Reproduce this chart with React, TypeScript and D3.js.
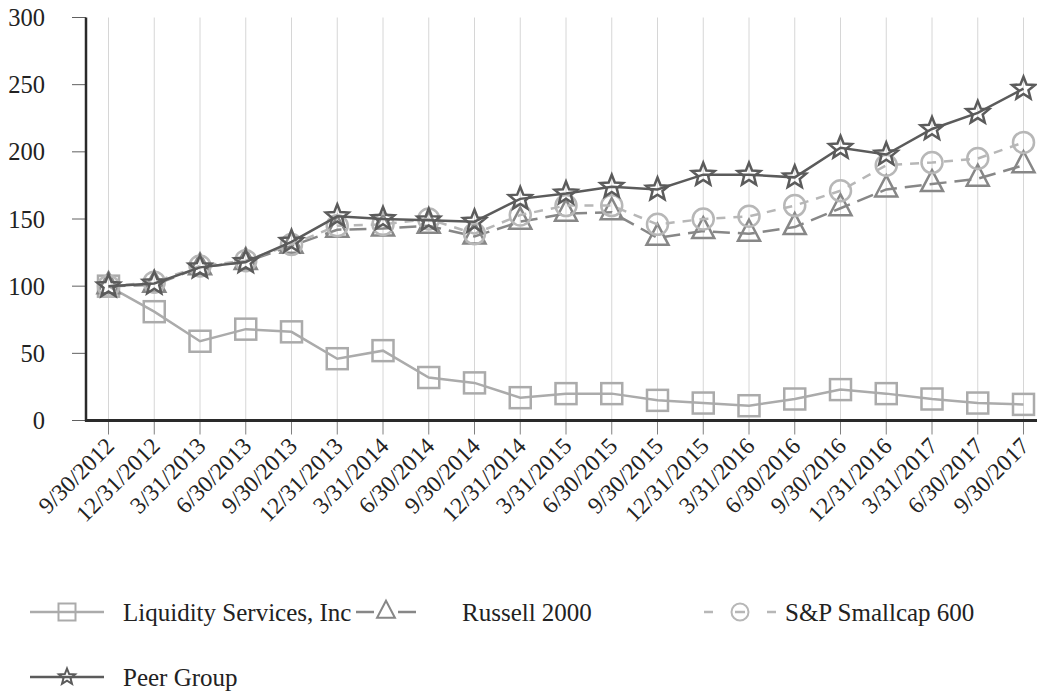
import React from "react";
import * as d3 from "d3";

const dates = [
  "9/30/2012", "12/31/2012", "3/31/2013", "6/30/2013", "9/30/2013", "12/31/2013",
  "3/31/2014", "6/30/2014", "9/30/2014", "12/31/2014", "3/31/2015", "6/30/2015",
  "9/30/2015", "12/31/2015", "3/31/2016", "6/30/2016", "9/30/2016", "12/31/2016",
  "3/31/2017", "6/30/2017", "9/30/2017",
];
const liquidity = [100, 81, 59, 68, 66, 46, 52, 32, 28, 17, 20, 20, 15, 13, 11, 16, 23, 20, 16, 13, 12];
const russell = [100, 101, 114, 118, 130, 142, 143, 145, 137, 148, 154, 155, 136, 141, 139, 144, 158, 172, 176, 180, 190];
const sp600 = [100, 103, 115, 119, 131, 145, 146, 150, 139, 153, 160, 160, 146, 150, 152, 160, 171, 190, 192, 195, 207];
const peer = [100, 102, 114, 118, 133, 152, 150, 149, 148, 165, 169, 174, 172, 183, 183, 181, 203, 198, 217, 229, 247];
const yTicks = [0, 50, 100, 150, 200, 250, 300];

type Series = { name: string; values: number[]; color: string; dash?: string; marker: string };
const seriesList: Series[] = [
  { name: "Liquidity Services, Inc", values: liquidity, color: "#ababab", marker: "square" },
  { name: "Russell 2000", values: russell, color: "#878787", dash: "17,8", marker: "triangle" },
  { name: "S&P Smallcap 600", values: sp600, color: "#b7b7b7", dash: "9,8", marker: "circle" },
  { name: "Peer Group", values: peer, color: "#5b5b5b", marker: "star" },
];

const FONT = "'Liberation Serif', 'Times New Roman', serif";

function starPath(R: number, r: number) {
  const pts: [number, number][] = [];
  for (let i = 0; i < 10; i++) {
    const a = -Math.PI / 2 + (i * Math.PI) / 5;
    const rad = i % 2 === 0 ? R : r;
    pts.push([Math.cos(a) * rad, Math.sin(a) * rad]);
  }
  return "M" + pts.map((p) => p[0].toFixed(2) + "," + p[1].toFixed(2)).join("L") + "Z";
}

function Marker({ type, x, y, color, s, sw = 2.5 }: { type: string; x: number; y: number; color: string; s: number; sw?: number }) {
  if (type === "square")
    return <rect x={x - s / 2} y={y - s / 2} width={s} height={s} fill="none" stroke={color} strokeWidth={sw} />;
  if (type === "circle") return <circle cx={x} cy={y} r={s / 2} fill="none" stroke={color} strokeWidth={sw} />;
  if (type === "triangle") {
    const h = s;
    const w = s * 1.05;
    const d = `M${x},${y - (2 * h) / 3}L${x + w / 2},${y + h / 3}L${x - w / 2},${y + h / 3}Z`;
    return <path d={d} fill="none" stroke={color} strokeWidth={sw} strokeLinejoin="miter" />;
  }
  return <path d={starPath(s / 2, s / 4.6)} transform={`translate(${x},${y})`} fill="none" stroke={color} strokeWidth={sw} />;
}

function LegendLine({ kind, cx, cy, color }: { kind: string; cx: number; cy: number; color: string }) {
  let segs: [number, number][];
  if (kind === "triangle") segs = [[-30, -12], [12, 30]];
  else if (kind === "circle") segs = [[-36, -27], [-5, 5], [27, 36]];
  else segs = [[-37, 37]];
  return (
    <g>
      {segs.map(([a, b], i) => (
        <line key={i} x1={cx + a} x2={cx + b} y1={cy} y2={cy} stroke={color} strokeWidth={2.5} />
      ))}
    </g>
  );
}

export default function App() {
  const W = 1037;
  const H = 691;
  const x = d3.scalePoint<string>().domain(dates).range([108.5, 1023.5]);
  const y = d3.scaleLinear().domain([0, 300]).range([420.5, 17.5]);
  const line = d3
    .line<number>()
    .x((_, i) => x(dates[i]) as number)
    .y((d) => y(d));

  const legendItems = [
    { s: seriesList[0], cx: 67, cy: 612, tx: 123 },
    { s: seriesList[1], cx: 386, cy: 612, tx: 462 },
    { s: seriesList[2], cx: 740, cy: 612, tx: 785 },
    { s: seriesList[3], cx: 67, cy: 677, tx: 123 },
  ];

  return (
    <div style={{ position: "absolute", left: 0, top: 0, background: "#fff" }}>
      <svg width={W} height={H} style={{ display: "block", fontFamily: FONT }}>
        <rect width={W} height={H} fill="#fff" />
        {dates.map((d) => (
          <line key={"g" + d} x1={x(d)} x2={x(d)} y1={y(300)} y2={y(0)} stroke="#d6d6d6" strokeWidth={1} />
        ))}
        {dates.map((d) => (
          <line key={"t" + d} x1={x(d)} x2={x(d)} y1={y(0)} y2={y(0) + 14} stroke="#808080" strokeWidth={1} />
        ))}
        {yTicks.map((t) => (
          <g key={"y" + t}>
            <line x1={72} x2={86} y1={y(t)} y2={y(t)} stroke="#606060" strokeWidth={1} />
            <text x={45} y={y(t)} dy="0.35em" textAnchor="end" fontSize={24.5} fill="#222">
              {t}
            </text>
          </g>
        ))}
        <line x1={86} x2={86} y1={y(300)} y2={y(0) + 1} stroke="#2a2a2a" strokeWidth={2.5} />
        <line x1={85} x2={1037} y1={y(0)} y2={y(0)} stroke="#2a2a2a" strokeWidth={3} />
        {dates.map((d) => (
          <text
            key={"l" + d}
            transform={`translate(${(x(d) as number) + 7},${y(0) + 27}) rotate(-45)`}
            textAnchor="end"
            fontSize={23.5}
            fill="#222"
          >
            {d}
          </text>
        ))}
        {seriesList.map((s) => (
          <g key={s.name}>
            <path d={line(s.values) || ""} fill="none" stroke={s.color} strokeWidth={2.5} strokeDasharray={s.dash} />
            {s.values.map((v, i) => (
              <Marker key={i} type={s.marker} x={x(dates[i]) as number} y={y(v)} color={s.color} s={s.marker === "star" ? 24 : 21} />
            ))}
          </g>
        ))}
        {legendItems.map(({ s, cx, cy, tx }) => (
          <g key={"lg" + s.name}>
            <LegendLine kind={s.marker} cx={cx} cy={cy} color={s.color} />
            <Marker type={s.marker} x={cx} y={cy} color={s.color} s={17} sw={2} />
            <text x={tx} y={cy} dy="0.35em" fontSize={25} fill="#222">
              {s.name}
            </text>
          </g>
        ))}
      </svg>
    </div>
  );
}
